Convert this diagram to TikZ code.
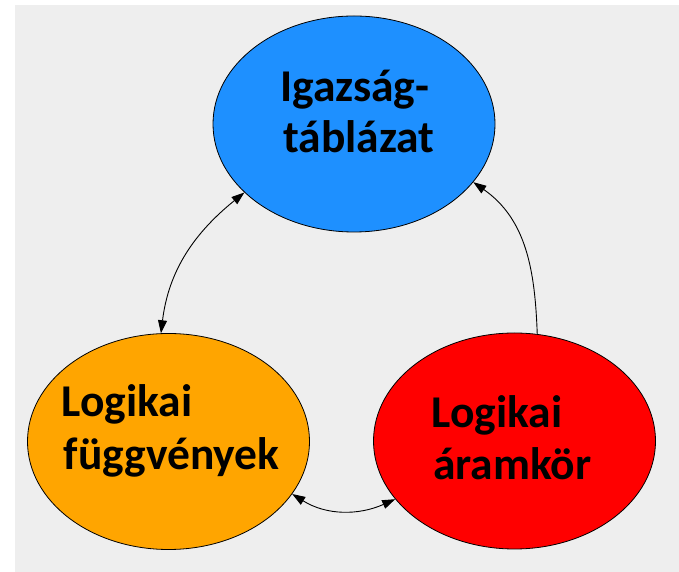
\documentclass[tikz,border=0pt]{standalone}
\usepackage{fontspec}
\setmainfont{Carlito}
\usetikzlibrary{shapes,arrows.meta}
\definecolor{hatter}{RGB}{238,238,238}
\definecolor{kek}{RGB}{30,144,255}
\definecolor{narancs}{RGB}{255,165,0}
\definecolor{piros}{RGB}{255,0,0}

\begin{document}
\begin{tikzpicture}[x=1pt,y=1pt,
  kor/.style={ellipse, draw=black, line width=0.8pt, inner sep=0pt, minimum width=282pt, minimum height=216pt},
  felirat/.style={anchor=base west, inner sep=0pt, font=\bfseries\fontsize{45.5}{52}\selectfont},
  nyil/.style={line width=0.9pt, -{Triangle[length=13pt,width=9pt]}},
  ketnyil/.style={line width=0.9pt, {Triangle[length=13pt,width=9pt]}-{Triangle[length=13pt,width=9pt]}}]
  \useasboundingbox (0,0) rectangle (679,572);
  \fill[hatter] (15,0) rectangle (679,567);
  % the three ellipses
  \node [kor, fill=kek] (tabla) at (354,448) {};
  \node [kor, fill=narancs] (fuggv) at (168.5,130.5) {};
  \node [kor, fill=piros] (aramkor) at (514.5,131) {};
  % texts
  \node [felirat] (tabla1) at (280,470) {Igazság-};
  \node [felirat] (tabla2) at (283,419) {táblázat};
  \node [felirat] (fuggv1) at (61.5,155) {Logikai};
  \node [felirat] (fuggv2) at (63.5,102) {függvények};
  \node [felirat] (aramkor1) at (431.5,144) {Logikai};
  \node [felirat] (aramkor2) at (433,92) {áramkör};
  % connectors
  \draw [ketnyil] (tabla.212) to[out=219, in=83] (fuggv.94);
  \draw [nyil] (aramkor.78) to[out=92, in=-35] (tabla.334);
  \draw [ketnyil] (fuggv.337) to[out=-32, in=204] (aramkor.206);
\end{tikzpicture}
\end{document}
